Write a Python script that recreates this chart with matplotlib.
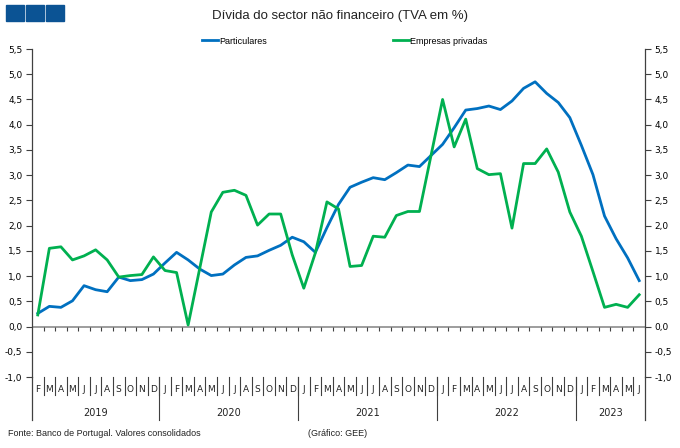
import matplotlib
matplotlib.use("Agg")
import matplotlib.pyplot as plt
import matplotlib.patches as mpatches
import numpy as np

plt.rcParams['font.family'] = ['Liberation Sans', 'DejaVu Sans']

# meses de Fev 2019 a Jun 2023
meses = ['F', 'M', 'A', 'M', 'J', 'J', 'A', 'S', 'O', 'N', 'D'] + \
        ['J', 'F', 'M', 'A', 'M', 'J', 'J', 'A', 'S', 'O', 'N', 'D'] * 3 + \
        ['J', 'F', 'M', 'A', 'M', 'J']
anos = ['2019', '2020', '2021', '2022', '2023']
meses_por_ano = [11, 12, 12, 12, 6]

particulares = [0.26, 0.40, 0.38, 0.51, 0.81, 0.73, 0.69, 0.98, 0.91, 0.93, 1.04,
                1.26, 1.47, 1.32, 1.14, 1.01, 1.04, 1.22, 1.37, 1.40, 1.51, 1.61, 1.77,
                1.68, 1.47, 1.96, 2.42, 2.76, 2.86, 2.95, 2.91, 3.05, 3.20, 3.17, 3.39,
                3.61, 3.94, 4.29, 4.32, 4.37, 4.30, 4.47, 4.72, 4.85, 4.62, 4.44, 4.14,
                3.59, 3.01, 2.19, 1.74, 1.36, 0.91]
empresas = [0.23, 1.55, 1.58, 1.32, 1.40, 1.52, 1.32, 0.98, 1.01, 1.03, 1.38,
            1.11, 1.07, 0.03, 1.15, 2.27, 2.66, 2.70, 2.60, 2.01, 2.23, 2.23, 1.42,
            0.76, 1.46, 2.47, 2.33, 1.19, 1.21, 1.79, 1.77, 2.20, 2.28, 2.28, 3.39,
            4.50, 3.56, 4.11, 3.13, 3.01, 3.03, 1.95, 3.23, 3.23, 3.52, 3.06, 2.27,
            1.79, 1.09, 0.38, 0.44, 0.38, 0.63]

yticks = np.arange(-1.0, 5.51, 0.5)

fig = plt.figure(figsize=(6.8, 4.48), dpi=100)
ax = fig.add_axes([32/680, 1 - 377/448, 613/680, 328/448])

x = np.arange(len(meses))
azul = '#0070C0'
verde = '#00B050'
ax.plot(x, particulares, color=azul, lw=2.0, label='Particulares', zorder=3)
ax.plot(x, empresas, color=verde, lw=2.0, label='Empresas privadas', zorder=3)

ax.set_xlim(-0.5, len(meses) - 0.5)
ax.set_ylim(-1.0, 5.5)

# linha do zero com marcas
ax.axhline(0, color='#8c8c8c', lw=1.2, zorder=2)
fronteiras = np.arange(0.5, len(meses) - 0.5, 1)
ax.vlines(fronteiras, -0.08, 0, color='#404040', lw=0.8, zorder=2)

for s in ['top', 'bottom']:
    ax.spines[s].set_visible(False)
for s in ['left', 'right']:
    ax.spines[s].set_color('#404040')
    ax.spines[s].set_linewidth(0.9)

ax.set_xticks([])
ax.set_yticks(yticks)
ax.set_yticklabels([f"{v:.1f}".replace('.', ',') for v in yticks], family='DejaVu Sans')
ax.tick_params(axis='y', left=True, right=True, labelleft=True, labelright=True,
               direction='out', length=4, width=0.8, color='#404040',
               labelsize=6.5, pad=3)

# rotulos dos meses e anos por baixo
trans = ax.get_xaxis_transform()
h = 328.0
for i, m in enumerate(meses):
    ax.text(i, -13/h, m, transform=trans, ha='center', va='center', fontsize=6.5,
            color='#222222', family='DejaVu Sans')
for b in fronteiras:
    ax.plot([b, b], [0, -18/h], transform=trans, color='#404040', lw=0.8, clip_on=False)

inicio = 0
for ano, n in zip(anos, meses_por_ano):
    centro = inicio + (n - 1) / 2
    ax.text(centro, -36/h, ano, transform=trans, ha='center', va='center', fontsize=7,
            color='#222222', family='DejaVu Sans')
    if inicio > 0:
        ax.plot([inicio - 0.5] * 2, [0, -43/h], transform=trans, color='#404040',
                lw=0.8, clip_on=False)
    inicio += n
for xe in [-0.5, len(meses) - 0.5]:
    ax.plot([xe, xe], [0, -43/h], transform=trans, color='#404040', lw=0.9,
            clip_on=False)

# titulo e legenda
fig.text(0.5, 1 - 16/448, 'Dívida do sector não financeiro (TVA em %)', ha='center',
         va='center', fontsize=9.5, color='#222222')
fig.legend(loc='center', bbox_to_anchor=(0.507, 1 - 41/448), ncol=2, frameon=False,
           fontsize=6.5, handlelength=1.8, handletextpad=0.1, columnspacing=14)

# logotipo
for x0 in [6, 26, 46]:
    fig.patches.append(mpatches.Rectangle((x0/680, 1 - 21/448), 18/680, 16/448,
                                          transform=fig.transFigure,
                                          color='#0B5394', zorder=5))

fig.text(8/680, 1 - 433/448, 'Fonte: Banco de Portugal. Valores consolidados',
         fontsize=6.5, va='center', color='#222222')
fig.text(308/680, 1 - 433/448, '(Gráfico: GEE)', fontsize=6.5, va='center',
         color='#222222')

fig.savefig('out.png', dpi=100)
